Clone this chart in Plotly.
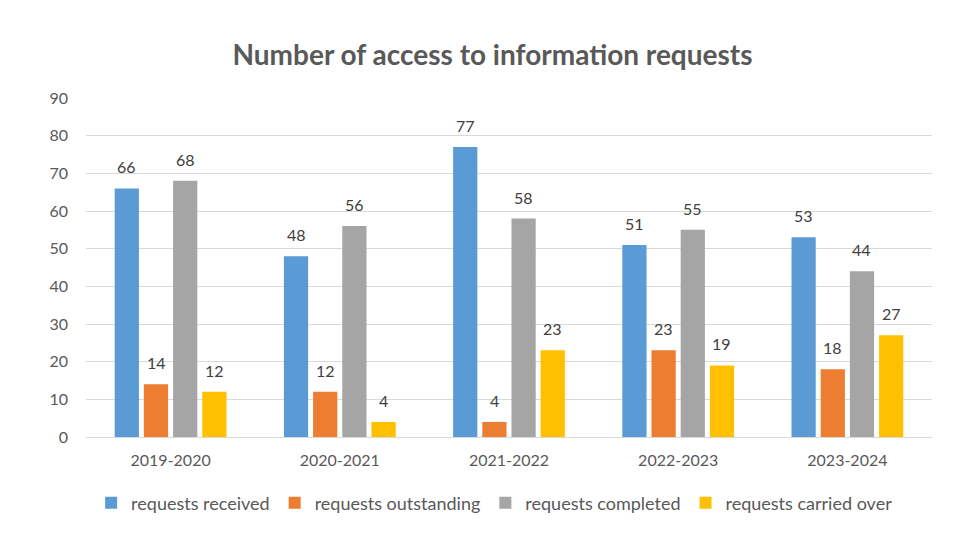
import plotly.graph_objects as go

years = ["2019-2020", "2020-2021", "2021-2022", "2022-2023", "2023-2024"]
received = [66, 48, 77, 51, 53]
outstanding = [14, 12, 4, 23, 18]
completed = [68, 56, 58, 55, 44]
carried_over = [12, 4, 23, 19, 27]

series = [
    ("requests received", received, "#5B9BD5"),
    ("requests outstanding", outstanding, "#ED7D31"),
    ("requests completed", completed, "#A5A5A5"),
    ("requests carried over", carried_over, "#FFC000"),
]

FONT = "Lato, Calibri, 'Open Sans', sans-serif"

W, H = 969, 549
ML, MR, MT, MB = 78, 45, 90, 120
BARGAP = 0.31
BARGROUPGAP = 0.17

fig = go.Figure()
for name, vals, color in series:
    fig.add_trace(go.Bar(
        x=years, y=vals, name=name,
        marker=dict(color=color, line=dict(width=0)),
    ))

# data labels placed above bars, horizontally offset to each bar's slot
plot_w = W - ML - MR
slot = plot_w / len(years) * (1 - BARGAP) / len(series)
for i, (name, vals, color) in enumerate(series):
    off = (i - (len(series) - 1) / 2) * slot
    for yr, v in zip(years, vals):
        fig.add_annotation(x=yr, y=v, xref="x", yref="y", text=str(v),
                           showarrow=False, xshift=off, yshift=10,
                           yanchor="bottom",
                           font=dict(size=16, color="#404040", family=FONT))

fig.update_layout(
    width=W, height=H,
    paper_bgcolor="white", plot_bgcolor="white",
    barmode="group", bargap=BARGAP, bargroupgap=BARGROUPGAP,
    margin=dict(l=ML, r=MR, t=MT, b=MB),
    title=dict(text="<b>Number of access to information requests</b>",
               x=0.5, xanchor="center", y=1 - 47 / H, yanchor="middle",
               font=dict(size=28, color="#595959", family=FONT)),
    font=dict(family=FONT, color="#595959", size=16),
    yaxis=dict(range=[0, 90], dtick=10, showgrid=True, gridcolor="#D9D9D9",
               gridwidth=1, zeroline=False, showline=False,
               tickfont=dict(size=16, color="#595959"), ticks="", ticklabelstandoff=17),
    xaxis=dict(showline=True, linecolor="#D9D9D9", linewidth=1, ticks="",
               tickfont=dict(size=16, color="#595959"), ticklabelstandoff=9),
    legend=dict(orientation="h", x=0.483, xanchor="center", y=-0.195, yanchor="middle",
                font=dict(size=18, color="#595959"), itemwidth=30,
                traceorder="normal"),
)

fig.write_html("out.html")
